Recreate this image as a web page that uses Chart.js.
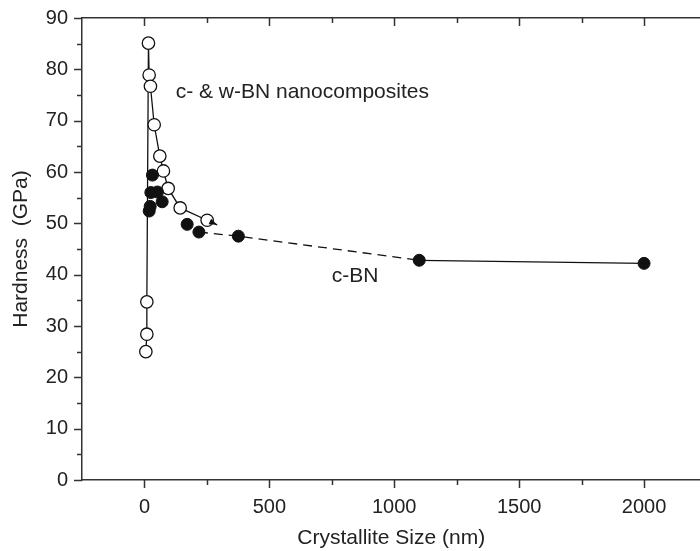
<!DOCTYPE html>
<html>
<head>
<meta charset="utf-8">
<script src="https://cdn.jsdelivr.net/npm/chart.js@4.4.1/dist/chart.umd.min.js"></script>
<style>
  html, body { margin: 0; padding: 0; background: #fff; overflow: hidden; }
  #wrap { width: 708px; height: 551px; }
</style>
</head>
<body>
<div id="wrap"><canvas id="chart"></canvas></div>
<script>
// c- & w-BN nanocomposites (open circles), in the order they are joined
const nanoSize = [5.6, 9.6, 9.6, 16, 18.8, 24, 39, 61.5, 76, 95, 143, 251];
const nanoHard = [25.0, 28.4, 34.7, 85.1, 78.9, 76.7, 69.2, 63.1, 60.2, 56.8, 53.0, 50.6];

// c-BN (filled circles)
const cbnSize = [19, 23, 25.6, 32, 52, 71, 171, 218, 376, 1100, 2000];
const cbnHard = [52.4, 53.3, 56.0, 59.4, 56.1, 54.2, 49.8, 48.3, 47.5, 42.8, 42.2];

// c-BN trend line (dashed up to 1100 nm, solid after)
const trendSize = [218, 376, 1100, 2000];
const trendHard = [48.3, 47.5, 42.8, 42.2];

const xTicks = [0, 500, 1000, 1500, 2000];
const xMinor = [250, 750, 1250, 1750];
const yTicks = [0, 10, 20, 30, 40, 50, 60, 70, 80, 90];
const yMinor = [5, 15, 25, 35, 45, 55, 65, 75, 85];

const labels = [
  { text: "c- & w-BN nanocomposites", x: 125, y: 75.5 },
  { text: "c-BN", x: 750, y: 39.7 }
];

const FONT = "'Liberation Sans', Arial, Helvetica, sans-serif";
const INK = "#222";
const AXIS = "#333";

const pts = (xs, ys) => xs.map((v, i) => ({ x: v, y: ys[i] }));

// tick marks: majors longer than minors, drawn on the library's scales
const tickMarks = {
  id: "tickMarks",
  afterDraw(chart) {
    const { ctx, chartArea: a, scales: { x, y } } = chart;
    ctx.save();
    ctx.strokeStyle = AXIS;
    ctx.lineWidth = 1.5;
    ctx.beginPath();
    const xMark = (v, len) => {
      const px = Math.round(x.getPixelForValue(v)) + 0.5;
      ctx.moveTo(px, a.bottom); ctx.lineTo(px, a.bottom + len);
      ctx.moveTo(px, a.top); ctx.lineTo(px, a.top + len);
    };
    const yMark = (v, len) => {
      const py = Math.round(y.getPixelForValue(v)) + 0.5;
      ctx.moveTo(a.left, py); ctx.lineTo(a.left - len, py);
    };
    xTicks.forEach(v => xMark(v, 8));
    xMinor.forEach(v => xMark(v, 5));
    yTicks.forEach(v => yMark(v, 8));
    yMinor.forEach(v => yMark(v, 5));
    ctx.stroke();
    ctx.restore();
  }
};

// arrowhead at the end of the nanocomposite line, just past the last circle
const arrowHead = {
  id: "arrowHead",
  afterDraw(chart) {
    const { ctx, scales: { x, y } } = chart;
    const n = nanoSize.length;
    const x0 = x.getPixelForValue(nanoSize[n - 2]), y0 = y.getPixelForValue(nanoHard[n - 2]);
    const x1 = x.getPixelForValue(nanoSize[n - 1]), y1 = y.getPixelForValue(nanoHard[n - 1]);
    const ang = Math.atan2(y1 - y0, x1 - x0);
    const c = Math.cos(ang), s = Math.sin(ang);
    const tx = x1 + c * 11, ty = y1 + s * 11;
    ctx.save();
    ctx.strokeStyle = "#111";
    ctx.lineWidth = 1.3;
    ctx.beginPath();
    ctx.moveTo(x1 + c * 6, y1 + s * 6);
    ctx.lineTo(tx, ty);
    ctx.stroke();
    ctx.fillStyle = "#111";
    ctx.beginPath();
    ctx.moveTo(tx, ty);
    ctx.lineTo(tx - 8 * c + 3 * s, ty - 8 * s - 3 * c);
    ctx.lineTo(tx - 8 * c - 3 * s, ty - 8 * s + 3 * c);
    ctx.closePath();
    ctx.fill();
    ctx.restore();
  }
};

const textLabels = {
  id: "textLabels",
  afterDatasetsDraw(chart) {
    const { ctx, scales: { x, y } } = chart;
    ctx.save();
    ctx.fillStyle = INK;
    ctx.font = "21px " + FONT;
    ctx.textAlign = "left";
    ctx.textBaseline = "middle";
    labels.forEach(l => ctx.fillText(l.text, x.getPixelForValue(l.x), y.getPixelForValue(l.y)));
    ctx.restore();
  }
};

new Chart(document.getElementById("chart"), {
  type: "scatter",
  data: {
    datasets: [
      {
        label: "c-BN trend",
        data: pts(trendSize, trendHard),
        showLine: true,
        borderColor: "#111",
        borderWidth: 1.3,
        pointRadius: 0,
        segment: { borderDash: c => c.p1.parsed.x <= 1100 ? [9, 6] : undefined }
      },
      {
        label: "c-BN",
        data: pts(cbnSize, cbnHard),
        showLine: false,
        pointRadius: 6,
        pointBackgroundColor: "#111",
        pointBorderColor: "#111",
        pointBorderWidth: 1
      },
      {
        label: "c- & w-BN nanocomposites",
        data: pts(nanoSize, nanoHard),
        showLine: true,
        borderColor: "#111",
        borderWidth: 1.3,
        pointRadius: 6.2,
        pointBackgroundColor: "#fff",
        pointBorderColor: "#111",
        pointBorderWidth: 1.3
      },
      {
        label: "centre dots",
        data: pts(nanoSize, nanoHard),
        showLine: false,
        pointRadius: 0.9,
        pointBorderWidth: 0,
        pointBackgroundColor: "#333"
      }
    ]
  },
  options: {
    responsive: true,
    maintainAspectRatio: false,
    animation: false,
    layout: { padding: 0 },
    plugins: { legend: { display: false }, tooltip: { enabled: false } },
    scales: {
      x: {
        type: "linear",
        position: "bottom",
        min: -250,
        max: 2226,
        afterBuildTicks: s => { s.ticks = xTicks.map(v => ({ value: v })); },
        afterFit: s => { s.height = 71; },
        grid: { display: false, tickLength: 8 },
        border: { display: true, color: AXIS, width: 1.5 },
        ticks: { color: INK, font: { family: FONT, size: 20 }, padding: 7, autoSkip: false, maxRotation: 0, callback: v => String(v) },
        title: { display: true, text: "Crystallite Size (nm)", color: INK, font: { family: FONT, size: 21 }, padding: { top: 0, bottom: 0 } }
      },
      x2: {
        type: "linear",
        position: "top",
        min: -250,
        max: 2226,
        afterFit: s => { s.height = 18; },
        grid: { display: false },
        border: { display: true, color: AXIS, width: 1.5 },
        ticks: { display: false }
      },
      y: {
        type: "linear",
        position: "left",
        min: 0,
        max: 90,
        afterBuildTicks: s => { s.ticks = yTicks.map(v => ({ value: v })); },
        afterFit: s => { s.width = 82; },
        grid: { display: false, tickLength: 8 },
        border: { display: true, color: AXIS, width: 1.5 },
        ticks: { color: INK, font: { family: FONT, size: 20 }, padding: 6 },
        title: { display: true, text: "Hardness  (GPa)", color: INK, font: { family: FONT, size: 21 }, padding: { top: 9, bottom: 0 } }
      }
    }
  },
  plugins: [tickMarks, arrowHead, textLabels]
});
</script>
</body>
</html>
